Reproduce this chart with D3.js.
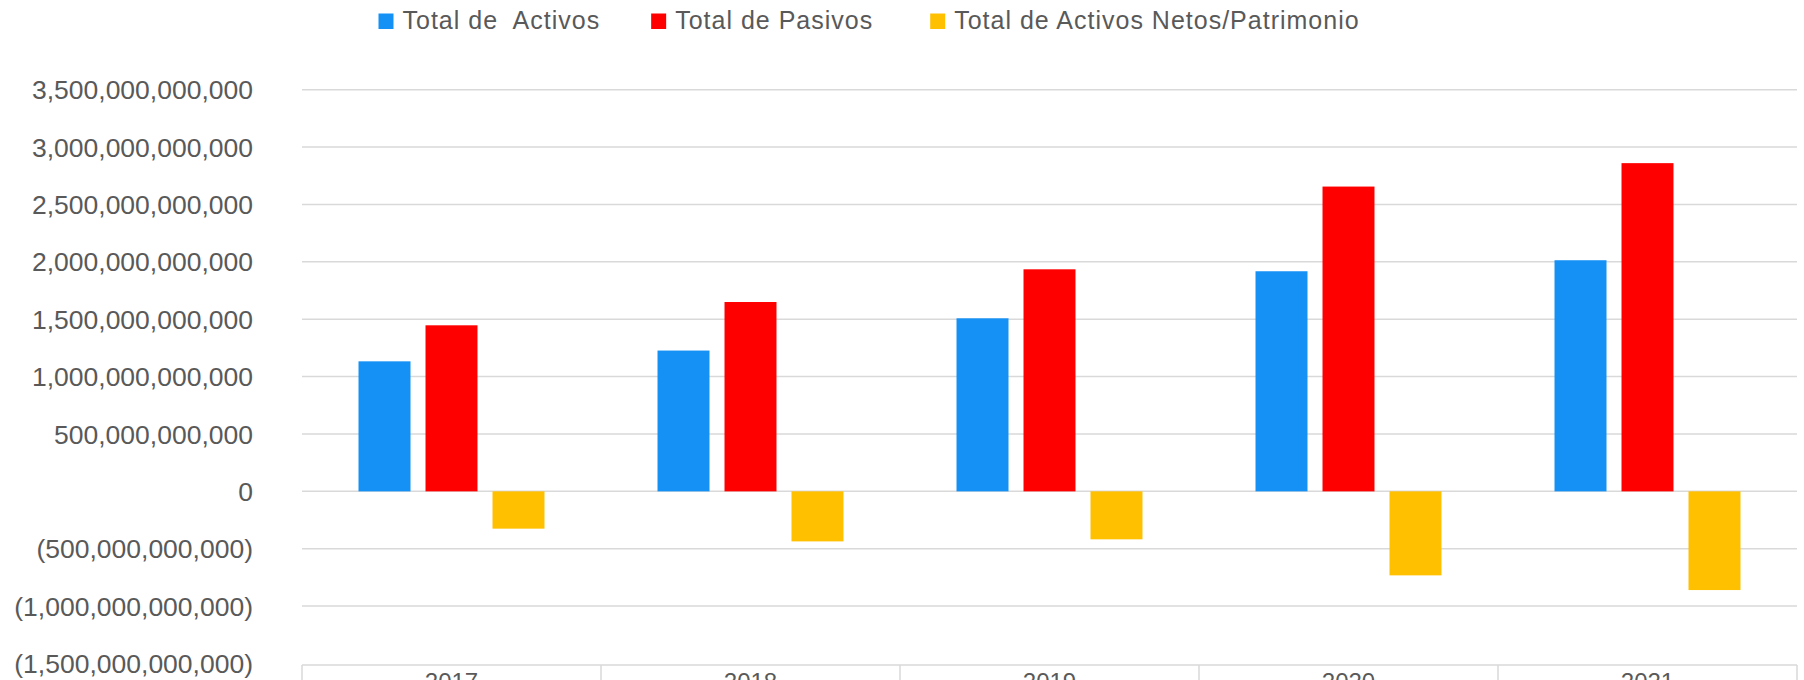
<!DOCTYPE html>
<html>
<head>
<meta charset="utf-8">
<script src="https://cdn.jsdelivr.net/npm/d3@7"></script>
<style>
  body { margin: 0; background: #fff; }
  text { font-family: "Liberation Sans", Arial, sans-serif; }
</style>
</head>
<body>
<svg id="chart" width="1804" height="680"></svg>
<script>
var width = 1804, height = 680;

var years = ["2017", "2018", "2019", "2020", "2021"];
var series = ["Total de  Activos", "Total de Pasivos", "Total de Activos Netos/Patrimonio"];
var activos = [1133e9, 1227e9, 1508e9, 1918e9, 2014e9];
var pasivos = [1447e9, 1650e9, 1935e9, 2656e9, 2860e9];
var netos = [-325e9, -436e9, -418e9, -732e9, -860e9];
var colors = ["#1591f6", "#ff0000", "#ffc000"];
var yTicks = [-1500e9, -1000e9, -500e9, 0, 500e9, 1000e9, 1500e9, 2000e9, 2500e9, 3000e9, 3500e9];

var values = [activos, pasivos, netos];
var plotLeft = 302, plotRight = 1797, plotTop = 89.7, plotBottom = 663.5;

var svg = d3.select("#chart");

var x0 = d3.scaleBand()
        .domain(years)
        .range([plotLeft, plotRight])
        .padding(0);

var half = x0.bandwidth() * 0.311;
var x1 = d3.scaleBand()
        .domain(series)
        .range([x0.bandwidth() / 2 - half, x0.bandwidth() / 2 + half])
        .paddingInner(0.224);

var y = d3.scaleLinear()
        .domain([yTicks[0], yTicks[yTicks.length - 1]])
        .range([plotBottom, plotTop]);

var color = d3.scaleOrdinal().domain(series).range(colors);

var fmt = d3.format(",.0f");
function label(v) {
        return v < 0 ? "(" + fmt(-v) + ")" : fmt(v);
}

// gridlines (the lowest one is drawn as the category axis)
svg.append("g")
        .selectAll("line")
        .data(yTicks.slice(1))
        .enter().append("line")
        .attr("x1", plotLeft)
        .attr("x2", plotRight)
        .attr("y1", function (d) { return y(d); })
        .attr("y2", function (d) { return y(d); })
        .attr("stroke", "#d9d9d9")
        .attr("stroke-width", 1.5);

// y labels
svg.append("g")
        .selectAll("text")
        .data(yTicks)
        .enter().append("text")
        .attr("x", 253)
        .attr("y", function (d) { return y(d); })
        .attr("dy", "0.36em")
        .attr("text-anchor", "end")
        .attr("fill", "#595959")
        .style("font-size", "26.5px")
        .text(label);

// bars
var rows = [];
years.forEach(function (yr, i) {
        series.forEach(function (s, j) {
                rows.push({ year: yr, key: s, value: values[j][i] });
        });
});

svg.append("g")
        .selectAll("rect")
        .data(rows)
        .enter().append("rect")
        .attr("x", function (d) { return x0(d.year) + x1(d.key); })
        .attr("y", function (d) { return y(Math.max(0, d.value)); })
        .attr("width", x1.bandwidth())
        .attr("height", function (d) { return Math.abs(y(d.value) - y(0)); })
        .attr("fill", function (d) { return color(d.key); });

// category axis box
var axisY = y(yTicks[0]) + 1.5;
var axis = svg.append("g");
axis.append("line")
        .attr("x1", plotLeft).attr("x2", plotRight)
        .attr("y1", axisY).attr("y2", axisY)
        .attr("stroke", "#d9d9d9").attr("stroke-width", 1.5);

axis.selectAll(".div")
        .data(years.concat(["end"]))
        .enter().append("line")
        .attr("class", "div")
        .attr("x1", function (d, i) { return plotLeft + i * x0.step(); })
        .attr("x2", function (d, i) { return plotLeft + i * x0.step(); })
        .attr("y1", axisY)
        .attr("y2", height)
        .attr("stroke", "#d9d9d9").attr("stroke-width", 1.5);

axis.selectAll(".cat")
        .data(years)
        .enter().append("text")
        .attr("class", "cat")
        .attr("x", function (d) { return x0(d) + x0.bandwidth() / 2; })
        .attr("y", 690)
        .attr("text-anchor", "middle")
        .attr("fill", "#595959")
        .style("font-size", "24px")
        .text(function (d) { return d; });

// legend
var lx = 378.5;
var gaps = [51, 57, 0];
var legend = svg.append("g");
series.forEach(function (s, i) {
        var g = legend.append("g").attr("transform", "translate(" + lx + ",0)");
        g.append("rect")
                .attr("x", 0).attr("y", 13.5)
                .attr("width", 15).attr("height", 15.5)
                .attr("fill", color(s));
        var t = g.append("text")
                .attr("x", 24)
                .attr("y", 29)
                .attr("fill", "#595959")
                .style("font-size", "25px")
                .style("letter-spacing", "1px")
                .style("white-space", "pre")
                .text(s);
        lx += 24 + t.node().getComputedTextLength() + gaps[i];
});
</script>
</body>
</html>
